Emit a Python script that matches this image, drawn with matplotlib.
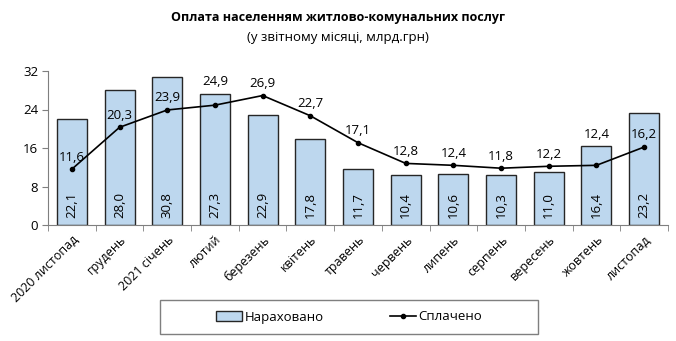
import matplotlib
matplotlib.use("Agg")
import matplotlib.pyplot as plt
from matplotlib.patches import Rectangle
import numpy as np

plt.rcParams['font.family'] = ['Open Sans', 'DejaVu Sans']

months = ['2020 листопад', 'грудень', '2021 січень', 'лютий', 'березень', 'квітень',
          'травень', 'червень', 'липень', 'серпень', 'вересень', 'жовтень', 'листопад']
accrued = [22.1, 28.0, 30.8, 27.3, 22.9, 17.8, 11.7, 10.4, 10.6, 10.3, 11.0, 16.4, 23.2]
paid = [11.6, 20.3, 23.9, 24.9, 26.9, 22.7, 17.1, 12.8, 12.4, 11.8, 12.2, 12.4, 16.2]
yticks = [0, 8, 16, 24, 32]


def fmt(v):
    return f"{v:.1f}".replace('.', ',')


fig = plt.figure(figsize=(6.76, 3.41), dpi=100)
ax = fig.add_axes([48 / 676, 1 - 225 / 341, 620 / 676, 154 / 341])

x = np.arange(len(months))
ax.bar(x, accrued, width=0.63, color='#BDD7EE', edgecolor='#262626', linewidth=1.0,
       label='Нараховано', zorder=2)
ax.plot(x, paid, color='black', marker='o', markersize=3, linewidth=1.2,
        label='Сплачено', zorder=3)

for xi, v in zip(x, accrued):
    ax.text(xi, 4.2, fmt(v), rotation=90, ha='center', va='center', fontsize=9.5, zorder=4)
for xi, v, b in zip(x, paid, accrued):
    # label sits above the bar when the bar top is just above the point
    base = b if 0 < b - v < 5 else v
    ax.annotate(fmt(v), (xi, base), xytext=(0, 4), textcoords='offset points',
                ha='center', va='bottom', fontsize=9.5, zorder=4)

ax.set_xlim(-0.5, len(months) - 0.5)
ax.set_ylim(0, 32)
ax.set_yticks(yticks)
ax.tick_params(axis='y', labelsize=9.5, length=4, color='#7f7f7f', pad=3)
ax.set_xticks(x)
ax.set_xticklabels(months, rotation=45, ha='right', rotation_mode='anchor', fontsize=9)
ax.set_xticks(np.arange(-0.5, len(months), 1), minor=True)
ax.tick_params(axis='x', which='major', length=0, pad=6)
ax.tick_params(axis='x', which='minor', length=4, color='#7f7f7f')
for s in ['top', 'right']:
    ax.spines[s].set_visible(False)
for s in ['left', 'bottom']:
    ax.spines[s].set_color('#7f7f7f')

fig.text(0.5, 1 - 17 / 341, 'Оплата населенням житлово-комунальних послуг',
         ha='center', va='center', fontsize=9, fontweight='bold')
fig.text(0.5, 1 - 37 / 341, '(у звітному місяці, млрд.грн)',
         ha='center', va='center', fontsize=9.5)

fig.patches.append(Rectangle((160 / 676, 1 - 334 / 341), 378 / 676, 34 / 341,
                             transform=fig.transFigure, fill=False,
                             edgecolor='#7f7f7f', linewidth=1))
handles, labels = ax.get_legend_handles_labels()
order = [labels.index('Нараховано'), labels.index('Сплачено')]
fig.legend([handles[i] for i in order], [labels[i] for i in order],
           loc='center', bbox_to_anchor=(349 / 676, 1 - 317 / 341), ncol=2, frameon=False,
           fontsize=9.5, handlelength=2.0, handletextpad=0.2, columnspacing=5.0)

fig.savefig('out.png', dpi=100)
